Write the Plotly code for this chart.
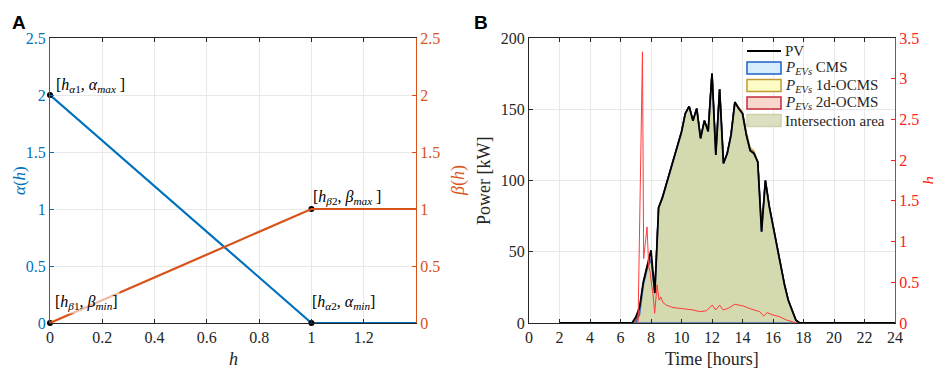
import numpy as np
import plotly.graph_objects as go

# ---------------- Panel A data ----------------
h_vals = [0, 1, 1.4]
alpha_vals = [2, 0, 0]
beta_vals = [0, 1, 1]
key_h = [0, 0, 1, 1]
key_v = [2, 0, 1, 0]

# ---------------- Panel B data ----------------
time_h = [2, 6.75, 7.0, 7.25, 7.5, 7.75, 8.0, 8.25, 8.5, 8.75, 9.0, 9.25, 9.5, 9.75,
          10.0, 10.25, 10.5, 10.75, 11.0, 11.25, 11.5, 11.75, 12.0, 12.25, 12.5, 12.75,
          13.0, 13.25, 13.5, 13.75, 14.0, 14.25, 14.5, 14.75, 15.0, 15.25, 15.5, 15.75,
          16.0, 16.25, 16.5, 16.75, 17.0, 17.25, 17.5, 17.75, 24]
pv = [0, 0, 4, 11, 29, 41, 51, 21, 81, 88, 97, 106, 115, 124,
      134, 147, 152, 142, 150.5, 129.5, 142, 134.5, 175, 118, 164, 112,
      119, 132, 155, 150.5, 147, 132, 121, 119, 113, 64, 100, 82,
      68, 54, 40, 27, 16, 9, 2, 0, 0]
p_cms = [0, 0, 0, 6, 27, 38, 45, 21, 81, 88, 97, 106, 115, 124,
         134, 147, 152, 142, 150.5, 129.5, 142, 134.5, 175, 118, 164, 112,
         119, 132, 155, 150.5, 147, 132, 121, 119, 113, 64, 100, 82,
         68, 54, 40, 27, 16, 9, 2, 0, 0]
p_ocms1 = [0, 0, 2, 9, 28, 40, 45, 21, 81, 88, 97, 106, 115, 124,
           134, 147, 152, 142, 150.5, 129.5, 142, 134.5, 175, 118, 164, 112,
           119, 132, 155, 151.5, 148, 134, 123, 120.5, 113, 64, 100, 82,
           68, 54, 40, 27, 16, 9, 2, 0, 0]
p_ocms2 = [0, 0, 1, 8, 28, 40, 44, 21, 81, 88, 97, 106, 115, 124,
           134, 147, 152, 142, 150.5, 129.5, 142, 134.5, 175, 118, 164, 112,
           119, 132, 155, 150.5, 147, 132, 121, 119, 113, 64, 100, 82,
           68, 54, 40, 27, 16, 9, 2, 0, 0]

time_hh = [7.15, 7.44, 7.52, 7.74, 7.85, 7.95, 8.05, 8.13, 8.24, 8.40, 8.53, 8.64,
           8.79, 9.0, 9.44, 9.88, 10.32, 10.76, 11.19, 11.63, 12.02, 12.24, 12.5,
           12.73, 13.06, 13.49, 14.03, 14.58, 15.13, 15.39, 15.61, 16.0, 16.44,
           16.88, 17.55]
h_line = [0, 3.33, 0.79, 1.18, 0.69, 0.62, 0.45, 0.36, 0.12, 0.47, 0.28, 0.32,
          0.25, 0.22, 0.19, 0.18, 0.17, 0.16, 0.14, 0.15, 0.22, 0.16, 0.22,
          0.16, 0.18, 0.23, 0.21, 0.17, 0.14, 0.086, 0.127, 0.098, 0.077,
          0.037, 0.0]

legend_names = ["PV",
                "<i>P</i><sub><i>EVs</i></sub> CMS",
                "<i>P</i><sub><i>EVs</i></sub> 1d-OCMS",
                "<i>P</i><sub><i>EVs</i></sub> 2d-OCMS",
                "Intersection area"]

x_ticks_a = [0, 0.2, 0.4, 0.6, 0.8, 1, 1.2]
y_ticks_a = [0, 0.5, 1, 1.5, 2, 2.5]
x_ticks_b = list(range(0, 25, 2))
y_ticks_b = [0, 50, 100, 150, 200]
y2_ticks_b = [0, 0.5, 1, 1.5, 2, 2.5, 3, 3.5]

BLUE = "#0072BD"
ORANGE = "#D95319"
DARK = "#262626"
GRID = "#e8e8e8"
RED = "#ff2020"
SERIF = "Liberation Serif"

C_CMS = ("#d6eefb", "#1f5fc8")
C_1D = ("#fdfbc6", "#c09a35")
C_2D = ("#f8d8cc", "#c8283c")
C_INT = ("#d4d9b0", "#c6c99c")

W, H = 941, 371
OFF = 8  # the page body adds an 8px margin around the figure


def P(px, py):
    """Screen pixel -> paper fraction (compensating the page margin)."""
    return (px - OFF) / W, 1 - (py - OFF) / H


fig = go.Figure()

# ---------- Panel A ----------
fig.add_trace(go.Scatter(x=h_vals, y=alpha_vals, mode="lines", line=dict(color=BLUE, width=2.2),
                         xaxis="x", yaxis="y", showlegend=False))
fig.add_trace(go.Scatter(x=h_vals, y=beta_vals, mode="lines", line=dict(color=ORANGE, width=2.2),
                         xaxis="x", yaxis="y2", showlegend=False))
fig.add_trace(go.Scatter(x=key_h, y=key_v, mode="markers", marker=dict(color="black", size=6),
                         xaxis="x", yaxis="y", showlegend=False, cliponaxis=False))

# ---------- Panel B ----------
def polygon(xs, ys):
    return list(xs) + list(xs[::-1]), list(ys) + [0] * len(ys)

for vals, (fc, lc), nm in [(p_cms, C_CMS, legend_names[1]),
                           (p_ocms1, C_1D, legend_names[2]),
                           (p_ocms2, C_2D, legend_names[3])]:
    px_, py_ = polygon(time_h, vals)
    fig.add_trace(go.Scatter(x=px_, y=py_, fill="toself", fillcolor=fc,
                             line=dict(color=lc, width=1.5), mode="lines",
                             name=nm, xaxis="x2", yaxis="y3", showlegend=False))
inter = np.minimum(np.minimum(p_cms, p_ocms1), p_ocms2)
fig.add_trace(go.Scatter(x=time_h, y=inter, fill="tozeroy", fillcolor=C_INT[0],
                         line=dict(color=C_INT[1], width=1), mode="lines",
                         name=legend_names[4], xaxis="x2", yaxis="y3", showlegend=False))
# outline of the CMS area (visible along the baseline and where it departs from PV)
px_, py_ = polygon(time_h, p_cms)
fig.add_trace(go.Scatter(x=px_, y=py_, mode="lines", line=dict(color="#3d6fb8", width=1.5),
                         xaxis="x2", yaxis="y3", showlegend=False, hoverinfo="skip"))
fig.add_trace(go.Scatter(x=time_hh, y=h_line, mode="lines", line=dict(color="#ff3b3b", width=1),
                         xaxis="x2", yaxis="y4", showlegend=False))
fig.add_trace(go.Scatter(x=time_h, y=pv, mode="lines", line=dict(color="black", width=1.8),
                         name=legend_names[0], xaxis="x2", yaxis="y3", showlegend=False))

xa0, ytop = P(50, 38)
xa1, ybot = P(416, 323)
xb0, _ = P(529, 38)
xb1, _ = P(895, 38)
XA = [xa0, xa1]
XB = [xb0, xb1]
YD = [ybot, ytop]

tickfont = dict(family=SERIF, size=16, color=DARK)
common_x = dict(showgrid=True, gridcolor=GRID, gridwidth=1, ticks="inside", ticklen=4,
                showline=True, linecolor=DARK, linewidth=1, mirror="ticks", zeroline=False,
                tickfont=tickfont, tickcolor=DARK)

fig.update_layout(
    width=W, height=H,
    margin=dict(l=0, r=0, t=0, b=0, autoexpand=False),
    paper_bgcolor="white", plot_bgcolor="white",
    showlegend=False,
    xaxis=dict(domain=XA, anchor="y", range=[0, 1.4], tickvals=x_ticks_a,
               ticktext=[str(v) for v in x_ticks_a], **common_x),
    yaxis=dict(domain=YD, anchor="x", range=[0, 2.5], tickvals=y_ticks_a,
               ticktext=[str(v) for v in y_ticks_a], showgrid=True, gridcolor=GRID,
               ticks="inside", ticklen=4, tickcolor=BLUE, showline=True, linecolor=BLUE,
               zeroline=False, tickfont=dict(family=SERIF, size=16, color=BLUE)),
    yaxis2=dict(overlaying="y", anchor="x", side="right", range=[0, 2.5], tickvals=y_ticks_a,
                ticktext=[str(v) for v in y_ticks_a], showgrid=False, ticks="inside", ticklen=4,
                tickcolor=ORANGE, showline=True, linecolor=ORANGE, zeroline=False,
                tickfont=dict(family=SERIF, size=16, color=ORANGE)),
    xaxis2=dict(domain=XB, anchor="y3", range=[0, 24], tickvals=x_ticks_b, **common_x),
    yaxis3=dict(domain=YD, anchor="x2", range=[0, 200], tickvals=y_ticks_b, showgrid=True,
                gridcolor=GRID, ticks="inside", ticklen=4, tickcolor=DARK, showline=True,
                linecolor=DARK, zeroline=False, tickfont=tickfont),
    yaxis4=dict(overlaying="y3", anchor="x2", side="right", range=[0, 3.5], tickvals=y2_ticks_b,
                ticktext=[str(v) for v in y2_ticks_b], showgrid=False, ticks="inside", ticklen=4,
                tickcolor=RED, showline=True, linecolor=RED, zeroline=False,
                tickfont=dict(family=SERIF, size=16, color=RED)),
)

ann = []
shapes = []

# panel letters
for letter, lx in [("A", 10), ("B", 472)]:
    x_, y_ = P(lx, 10)
    ann.append(dict(text="<b>%s</b>" % letter, x=x_, y=y_, xref="paper", yref="paper",
                    xanchor="left", yanchor="top", showarrow=False,
                    font=dict(family="Liberation Sans", size=19, color="black")))


def title(text, px, py, color, angle=0, size=18):
    x_, y_ = P(px, py)
    ann.append(dict(text=text, x=x_, y=y_, xref="paper", yref="paper", textangle=angle,
                    xanchor="center", yanchor="middle",
                    showarrow=False, font=dict(family=SERIF, size=size, color=color)))


title("<i>α</i>(<i>h</i>)", 19, 181, BLUE, -90, 17)
title("<i>β</i>(<i>h</i>)", 458, 181, ORANGE, -90)
title("<i>h</i>", 233, 359, DARK)
title("Power [kW]", 484, 181, DARK, -90)
title("Time [hours]", 712, 359, DARK)
title("<i>h</i>", 930, 181, RED, -90)

# point labels in panel A
lab_font = dict(family=SERIF, size=16, color="black")
ann.append(dict(text="[<i>h</i><sub><i>α</i>1</sub>, <i>α</i><sub><i>max</i></sub> ]", x=0.015, y=2.0,
                xref="x", yref="y", xanchor="left", yanchor="middle", yshift=9,
                showarrow=False, font=lab_font))
ann.append(dict(text="[<i>h</i><sub><i>β</i>2</sub>, <i>β</i><sub><i>max</i></sub> ]", x=1.0, y=1.0,
                xref="x", yref="y", xanchor="left", yanchor="middle", yshift=12,
                showarrow=False, font=lab_font))
ann.append(dict(text="[<i>h</i><sub><i>β</i>1</sub>, <i>β</i><sub><i>min</i></sub>]", x=0.01, y=0.0,
                xref="x", yref="y", xanchor="left", yanchor="middle", yshift=21,
                showarrow=False, font=lab_font, bgcolor="rgba(255,255,255,0.6)"))
ann.append(dict(text="[<i>h</i><sub><i>α</i>2</sub>, <i>α</i><sub><i>min</i></sub>]", x=0.995, y=0.0,
                xref="x", yref="y", xanchor="left", yanchor="middle", yshift=21,
                showarrow=False, font=lab_font))

# legend for panel B (drawn manually to get MATLAB-style boxed swatches)
sw_x0, sw_x1, txt_x = 747, 781, 783
row_y = [51, 68, 85.5, 103, 120.5]
x0, y0 = P(sw_x0, row_y[0])
x1, _ = P(sw_x1, row_y[0])
shapes.append(dict(type="line", xref="paper", yref="paper", x0=x0, x1=x1, y0=y0, y1=y0,
                   line=dict(color="black", width=1.8)))
for (fc, lc), ry in zip([C_CMS, C_1D, C_2D, ("#dcdfc0", "#cfd1aa")], row_y[1:]):
    xa, ya = P(sw_x0, ry - 6)
    xb, yb = P(sw_x1, ry + 6)
    shapes.append(dict(type="rect", xref="paper", yref="paper", x0=xa, x1=xb, y0=yb, y1=ya,
                       fillcolor=fc, line=dict(color=lc, width=1.5)))
for nm, ry in zip(legend_names, row_y):
    x_, y_ = P(txt_x, ry)
    ann.append(dict(text=nm, x=x_, y=y_, xref="paper", yref="paper", xanchor="left",
                    yanchor="middle", showarrow=False,
                    font=dict(family=SERIF, size=15, color=DARK)))

fig.update_layout(annotations=ann, shapes=shapes)

fig.write_html("out.html")
